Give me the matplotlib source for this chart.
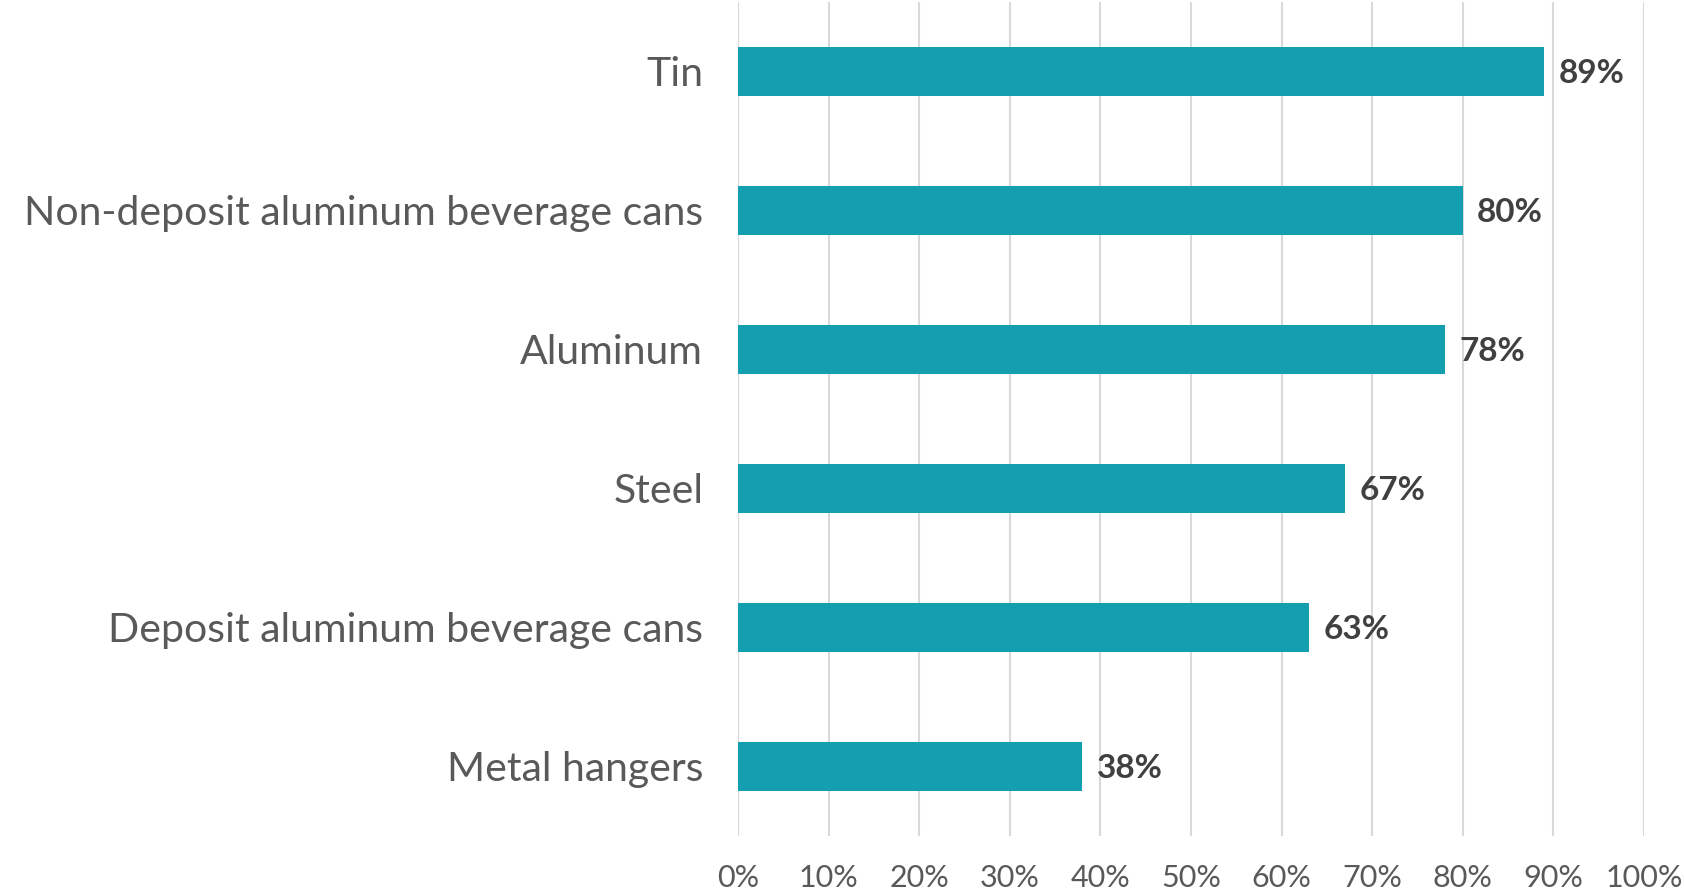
import matplotlib.pyplot as plt
import numpy as np

categories = [
    "Tin",
    "Non-deposit aluminum beverage cans",
    "Aluminum",
    "Steel",
    "Deposit aluminum beverage cans",
    "Metal hangers",
]
values = [89, 80, 78, 67, 63, 38]
x_ticks = [0, 10, 20, 30, 40, 50, 60, 70, 80, 90, 100]

bar_color = "#139FB0"
text_color = "#595959"
label_color = "#404040"
grid_color = "#D9D9D9"

plt.rcParams["font.family"] = ["Lato", "DejaVu Sans"]

fig = plt.figure(figsize=(16.84, 8.93), dpi=100)
ax = fig.add_axes([0.4382, 0.064, 0.5380, 0.934])

y = np.arange(len(categories))
ax.barh(y, values, height=0.35, color=bar_color, zorder=3)
for yi, v in zip(y, values):
    ax.text(v + 1.6, yi, f"{v}%", va="center_baseline", ha="left", fontsize=24,
            fontweight="bold", color=label_color)

ax.set_ylim(len(categories) - 0.5, -0.5)
ax.set_xlim(0, 100)
ax.set_yticks(y)
ax.set_yticklabels(categories, fontsize=29.5, color=text_color)
ax.set_xticks(x_ticks)
ax.set_xticklabels([f"{t}%" for t in x_ticks], fontsize=22, color=text_color)
ax.tick_params(axis="y", length=0, pad=25)
ax.tick_params(axis="x", length=0, pad=20)
ax.grid(axis="x", color=grid_color, linewidth=1.5, zorder=0)
for side in ["top", "right", "left", "bottom"]:
    ax.spines[side].set_visible(False)
ax.axvline(0, color=grid_color, linewidth=1.5, zorder=0)

fig.savefig("out.png", dpi=100)
